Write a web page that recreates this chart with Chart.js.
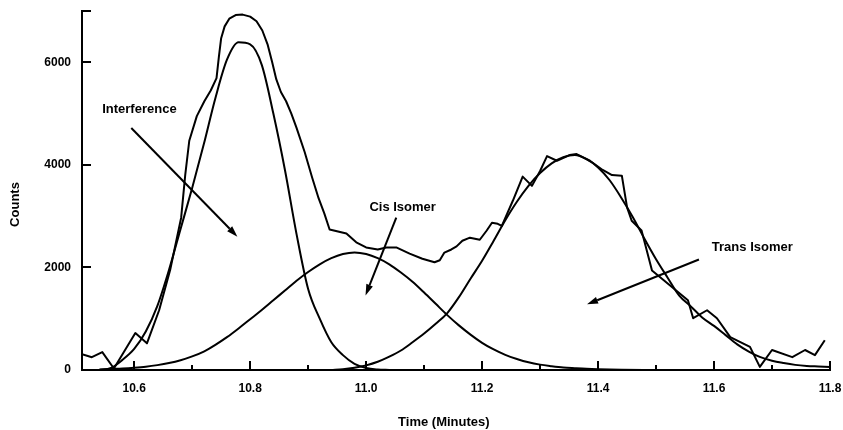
<!DOCTYPE html>
<html>
<head>
<meta charset="utf-8">
<script src="https://cdn.jsdelivr.net/npm/chart.js@4"></script>
<style>
  html, body { margin: 0; padding: 0; background: #fff; }
</style>
</head>
<body>
<canvas id="chart" width="843" height="430"></canvas>
<script>
// measured trace (jagged line)
const dataTime = [10.51, 10.527, 10.545, 10.565, 10.602, 10.622, 10.643, 10.662, 10.681, 10.688,
  10.695, 10.708, 10.721, 10.732, 10.742, 10.746, 10.750, 10.756, 10.764, 10.775,
  10.787, 10.800, 10.811, 10.821, 10.830, 10.838, 10.845, 10.853, 10.862, 10.871,
  10.880, 10.894, 10.907, 10.918, 10.928, 10.937, 10.966, 10.983, 11.000, 11.020,
  11.035, 11.052, 11.075, 11.097, 11.118, 11.127, 11.135, 11.147, 11.156, 11.166,
  11.179, 11.196, 11.208, 11.217, 11.227, 11.234, 11.253, 11.270, 11.286, 11.300,
  11.312, 11.329, 11.351, 11.363, 11.386, 11.408, 11.424, 11.441, 11.450, 11.458,
  11.475, 11.493, 11.555, 11.564, 11.588, 11.605, 11.628, 11.662, 11.679, 11.700,
  11.735, 11.757, 11.774, 11.791];
const dataCounts = [310, 250, 350, 30, 720, 520, 1165, 1950, 2970, 3800,
  4470, 4950, 5240, 5450, 5690, 6100, 6470, 6700, 6850, 6920,
  6930, 6890, 6800, 6620, 6350, 6000, 5670, 5420, 5240, 5000,
  4720, 4250, 3750, 3350, 3050, 2740, 2660, 2490, 2390, 2350,
  2390, 2390, 2270, 2170, 2100, 2140, 2290, 2350, 2410, 2520,
  2580, 2540, 2720, 2870, 2850, 2810, 3300, 3770, 3590, 3880,
  4170, 4080, 4190, 4210, 4080, 3900, 3800, 3790, 3170, 2910,
  2720, 1940, 1360, 1010, 1165, 1010, 640, 450, 60, 390,
  250, 390, 290, 580];

// fitted peaks (smooth curves)
const interfTime = [10.54, 10.56, 10.58, 10.60, 10.62, 10.64, 10.66, 10.68, 10.70, 10.72,
  10.74, 10.76, 10.78, 10.80, 10.82, 10.84, 10.86, 10.88, 10.90, 10.92,
  10.94, 10.96, 10.98, 11.00, 11.02, 11.04];
const interfCounts = [0, 40, 200, 410, 750, 1250, 1950, 2750, 3550, 4400,
  5300, 6050, 6390, 6350, 5950, 5000, 3900, 2650, 1580, 1000,
  540, 290, 120, 40, 10, 0];

const cisTime = [10.54, 10.56, 10.58, 10.60, 10.62, 10.64, 10.66, 10.68, 10.70, 10.72,
  10.74, 10.76, 10.78, 10.80, 10.82, 10.84, 10.86, 10.88, 10.90, 10.92,
  10.94, 10.96, 10.98, 11.00, 11.02, 11.04, 11.06, 11.08, 11.10, 11.12,
  11.14, 11.16, 11.18, 11.20, 11.22, 11.24, 11.26, 11.28, 11.30, 11.32,
  11.34, 11.36, 11.38, 11.40, 11.44, 11.50];
const cisCounts = [10, 20, 30, 45, 65, 95, 135, 190, 265, 360,
  490, 640, 810, 990, 1170, 1360, 1550, 1740, 1910, 2060,
  2180, 2260, 2290, 2260, 2180, 2060, 1900, 1720, 1510, 1290,
  1070, 870, 690, 530, 400, 295, 215, 150, 105, 75,
  50, 35, 22, 14, 5, 0];

const transTime = [10.94, 10.96, 10.98, 11.00, 11.02, 11.04, 11.06, 11.08, 11.10, 11.12,
  11.14, 11.16, 11.18, 11.20, 11.22, 11.24, 11.26, 11.28, 11.30, 11.32,
  11.34, 11.36, 11.38, 11.40, 11.42, 11.44, 11.46, 11.48, 11.50, 11.52,
  11.54, 11.56, 11.58, 11.60, 11.62, 11.64, 11.66, 11.68, 11.70, 11.72,
  11.74, 11.76, 11.78, 11.80];
const transCounts = [0, 15, 45, 90, 160, 260, 380, 540, 710, 900,
  1110, 1420, 1780, 2130, 2520, 2920, 3280, 3590, 3840, 4030,
  4150, 4190, 4110, 3950, 3700, 3360, 2980, 2560, 2160, 1800,
  1450, 1240, 1020, 860, 680, 500, 360, 250, 180, 135,
  100, 80, 70, 60];

// axes
const xTicks = [10.6, 10.7, 10.8, 10.9, 11.0, 11.1, 11.2, 11.3, 11.4, 11.5, 11.6, 11.7, 11.8];
const xLabels = ["10.6", "10.8", "11.0", "11.2", "11.4", "11.6", "11.8"];
const yTicks = [0, 2000, 4000, 6000, 7000];
const yLabels = ["0", "2000", "4000", "6000"];

// annotations: label position, arrow tail, arrow head (data units)
const noteText = ["Interference", "Cis Isomer", "Trans Isomer"];
const noteAt = [[10.609, 5090], [11.063, 3165], [11.666, 2390]];
const arrowFrom = [[10.595, 4720], [11.052, 2970], [11.574, 2155]];
const arrowTo = [[10.778, 2600], [10.999, 1455], [11.381, 1280]];

const FONT = '"Liberation Sans", Arial, sans-serif';

function points(xs, ys) {
    return xs.map((x, i) => ({ x: x, y: ys[i] }));
}

function curve(xs, ys, smooth) {
    return {
        data: points(xs, ys),
        showLine: true,
        borderColor: "#000",
        borderWidth: 2,
        pointRadius: 0,
        tension: smooth ? 0.4 : 0,
        cubicInterpolationMode: smooth ? "monotone" : "default",
        borderJoinStyle: "round"
    };
}

function isLabelled(list, v) {
    return list.some(s => Math.abs(parseFloat(s) - v) < 1e-6);
}

// short inward tick marks, longer ones where there is a label
const tickMarks = {
    id: "tickMarks",
    afterDraw(chart) {
        const { ctx, chartArea, scales: { x, y } } = chart;
        ctx.save();
        ctx.strokeStyle = "#000";
        ctx.lineWidth = 2;
        ctx.beginPath();
        xTicks.forEach(v => {
            const px = Math.round(x.getPixelForValue(v));
            const len = isLabelled(xLabels, v) ? 9 : 5;
            ctx.moveTo(px, chartArea.bottom);
            ctx.lineTo(px, chartArea.bottom - len);
        });
        yTicks.forEach(v => {
            const py = Math.round(y.getPixelForValue(v));
            ctx.moveTo(chartArea.left, py);
            ctx.lineTo(chartArea.left + 9, py);
        });
        ctx.stroke();
        ctx.restore();
    }
};

// peak labels, arrows and axis titles
const notes = {
    id: "notes",
    afterDraw(chart) {
        const { ctx, chartArea, scales: { x, y } } = chart;
        ctx.save();
        ctx.fillStyle = "#000";
        ctx.strokeStyle = "#000";
        ctx.font = "bold 13px " + FONT;
        ctx.textAlign = "center";
        ctx.textBaseline = "middle";
        noteText.forEach((t, i) => {
            ctx.fillText(t, x.getPixelForValue(noteAt[i][0]), y.getPixelForValue(noteAt[i][1]));

            const x0 = x.getPixelForValue(arrowFrom[i][0]), y0 = y.getPixelForValue(arrowFrom[i][1]);
            const x1 = x.getPixelForValue(arrowTo[i][0]), y1 = y.getPixelForValue(arrowTo[i][1]);
            const a = Math.atan2(y1 - y0, x1 - x0);
            const head = 11, half = 3.5;
            const bx = x1 - head * Math.cos(a), by = y1 - head * Math.sin(a);
            ctx.lineWidth = 2;
            ctx.beginPath();
            ctx.moveTo(x0, y0);
            ctx.lineTo(bx, by);
            ctx.stroke();
            ctx.beginPath();
            ctx.moveTo(x1, y1);
            ctx.lineTo(bx + half * Math.sin(a), by - half * Math.cos(a));
            ctx.lineTo(bx - half * Math.sin(a), by + half * Math.cos(a));
            ctx.closePath();
            ctx.fill();
        });

        // axis titles
        ctx.fillText("Time (Minutes)", x.getPixelForValue(11.134), chartArea.bottom + 52);
        ctx.translate(15, (chartArea.top + chartArea.bottom) / 2 + 14);
        ctx.rotate(-Math.PI / 2);
        ctx.fillText("Counts", 0, 0);
        ctx.restore();
    }
};

new Chart(document.getElementById("chart").getContext("2d"), {
    type: "scatter",
    data: {
        datasets: [
            curve(dataTime, dataCounts, false),
            curve(interfTime, interfCounts, true),
            curve(cisTime, cisCounts, true),
            curve(transTime, transCounts, true)
        ]
    },
    options: {
        responsive: false,
        animation: false,
        layout: { padding: { top: 11, right: 13, left: 0, bottom: 0 } },
        plugins: { legend: { display: false }, tooltip: { enabled: false } },
        scales: {
            x: {
                type: "linear",
                min: 10.51,
                max: 11.8,
                grid: { display: false, drawTicks: false },
                border: { display: true, color: "#000", width: 2 },
                afterBuildTicks: s => { s.ticks = xTicks.map(v => ({ value: v })); },
                afterFit: s => { s.height = 60; s.paddingLeft = 0; s.paddingRight = 0; },
                ticks: {
                    autoSkip: false,
                    maxRotation: 0,
                    padding: 11,
                    color: "#000",
                    font: { family: FONT, size: 12, weight: "bold" },
                    callback: v => isLabelled(xLabels, v) ? v.toFixed(1) : ""
                }
            },
            y: {
                min: 0,
                max: 7000,
                grid: { display: false, drawTicks: false },
                border: { display: true, color: "#000", width: 2 },
                afterBuildTicks: s => { s.ticks = yTicks.map(v => ({ value: v })); },
                afterFit: s => { s.width = 82; s.paddingTop = 0; s.paddingBottom = 0; },
                ticks: {
                    padding: 11,
                    color: "#000",
                    font: { family: FONT, size: 12, weight: "bold" },
                    callback: v => isLabelled(yLabels, v) ? String(v) : ""
                }
            }
        }
    },
    plugins: [tickMarks, notes]
});
</script>
</body>
</html>
